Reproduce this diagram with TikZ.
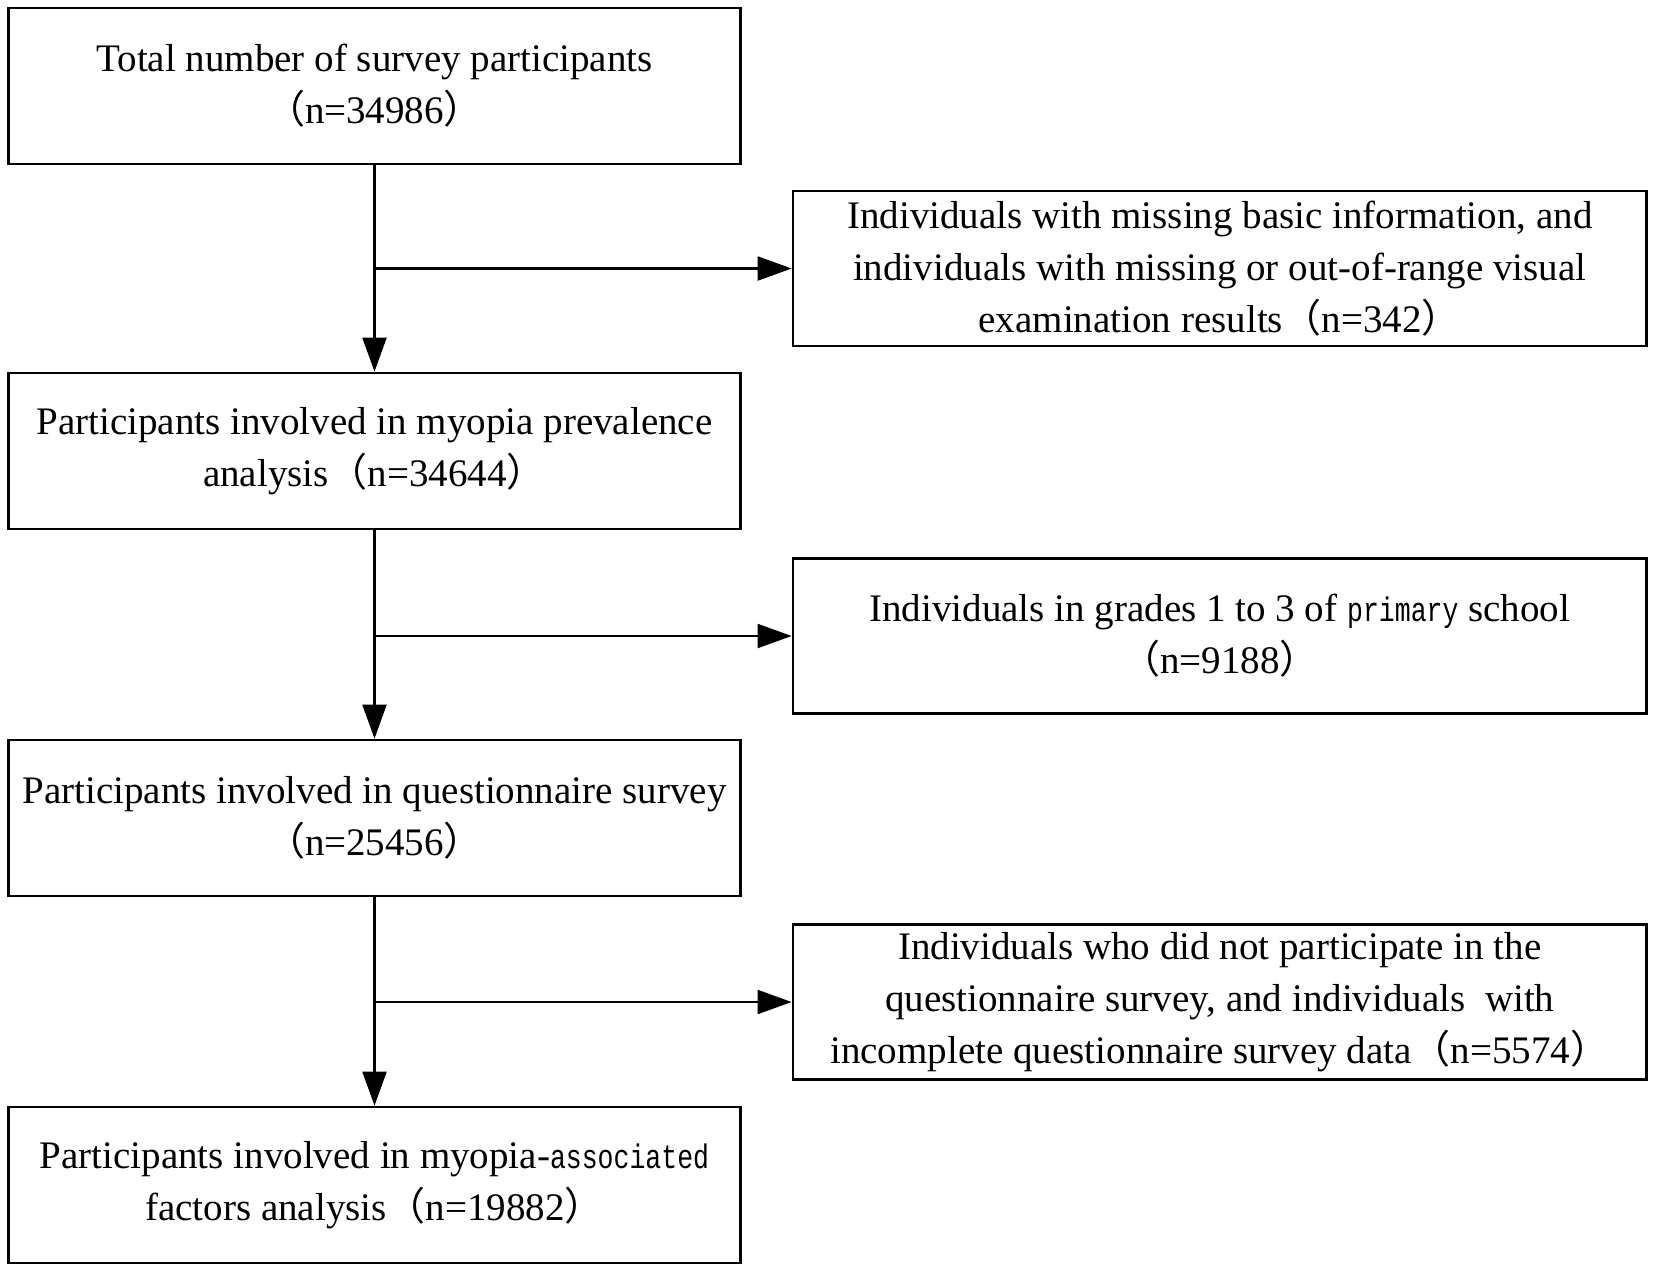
\documentclass[tikz,border=0pt]{standalone}
\usepackage{fontspec}
\setmainfont{Liberation Serif}
\newfontfamily\monof{Liberation Mono}[FakeStretch=0.78]
\newfontfamily\cjk{Noto Sans CJK SC}
\usetikzlibrary{arrows.meta}
\newcommand{\lpar}{{\cjk （}}
\newcommand{\rpar}{{\cjk ）}}
\newcommand{\mono}[1]{{\monof\fontsize{17}{26}\selectfont #1}}
\begin{document}
\begin{tikzpicture}[x=0.5pt,y=-0.5pt,
  box/.style={draw, line width=1.4pt, rectangle, inner sep=0pt, align=center,
    font=\fontsize{19.5}{26}\selectfont},
  mainbox/.style={box, minimum width=366pt, minimum height=78pt},
  sidebox/.style={box, minimum width=426.8pt, minimum height=77.5pt},
  arr/.style={line width=1.1pt, -{Triangle[length=17pt,width=12pt]}}]
\useasboundingbox (0,0) rectangle (1654,1271);
\node[mainbox] (b1) at (374.5,86) {Total number of survey participants\\\lpar n=34986\rpar};
\node[mainbox] (b2) at (374.5,451) {Participants involved in myopia prevalence\\analysis\lpar n=34644\rpar};
\node[mainbox] (b3) at (374.5,818) {Participants involved in questionnaire survey\\\lpar n=25456\rpar};
\node[mainbox] (b4) at (374.5,1185) {Participants involved in myopia-\mono{associated}\\factors analysis\lpar n=19882\rpar};
\node[sidebox] (r1) at (1219.8,268.5) {Individuals with missing basic information, and\\individuals with missing or out-of-range visual\\examination results\lpar n=342\rpar};
\node[sidebox] (r2) at (1219.8,636) {Individuals in grades 1 to 3 of \mono{primary} school\\\lpar n=9188\rpar};
\node[sidebox] (r3) at (1219.8,1002) {Individuals who did not participate in the\\questionnaire survey, and individuals\ \ with\\incomplete questionnaire survey data\lpar n=5574\rpar};
\draw[arr] (b1.south) -- (b2.north);
\draw[arr] (b2.south) -- (b3.north);
\draw[arr] (b3.south) -- (b4.north);
\draw[arr] (b1.south |- r1.west) -- (r1.west);
\draw[arr] (b2.south |- r2.west) -- (r2.west);
\draw[arr] (b3.south |- r3.west) -- (r3.west);
\end{tikzpicture}
\end{document}
